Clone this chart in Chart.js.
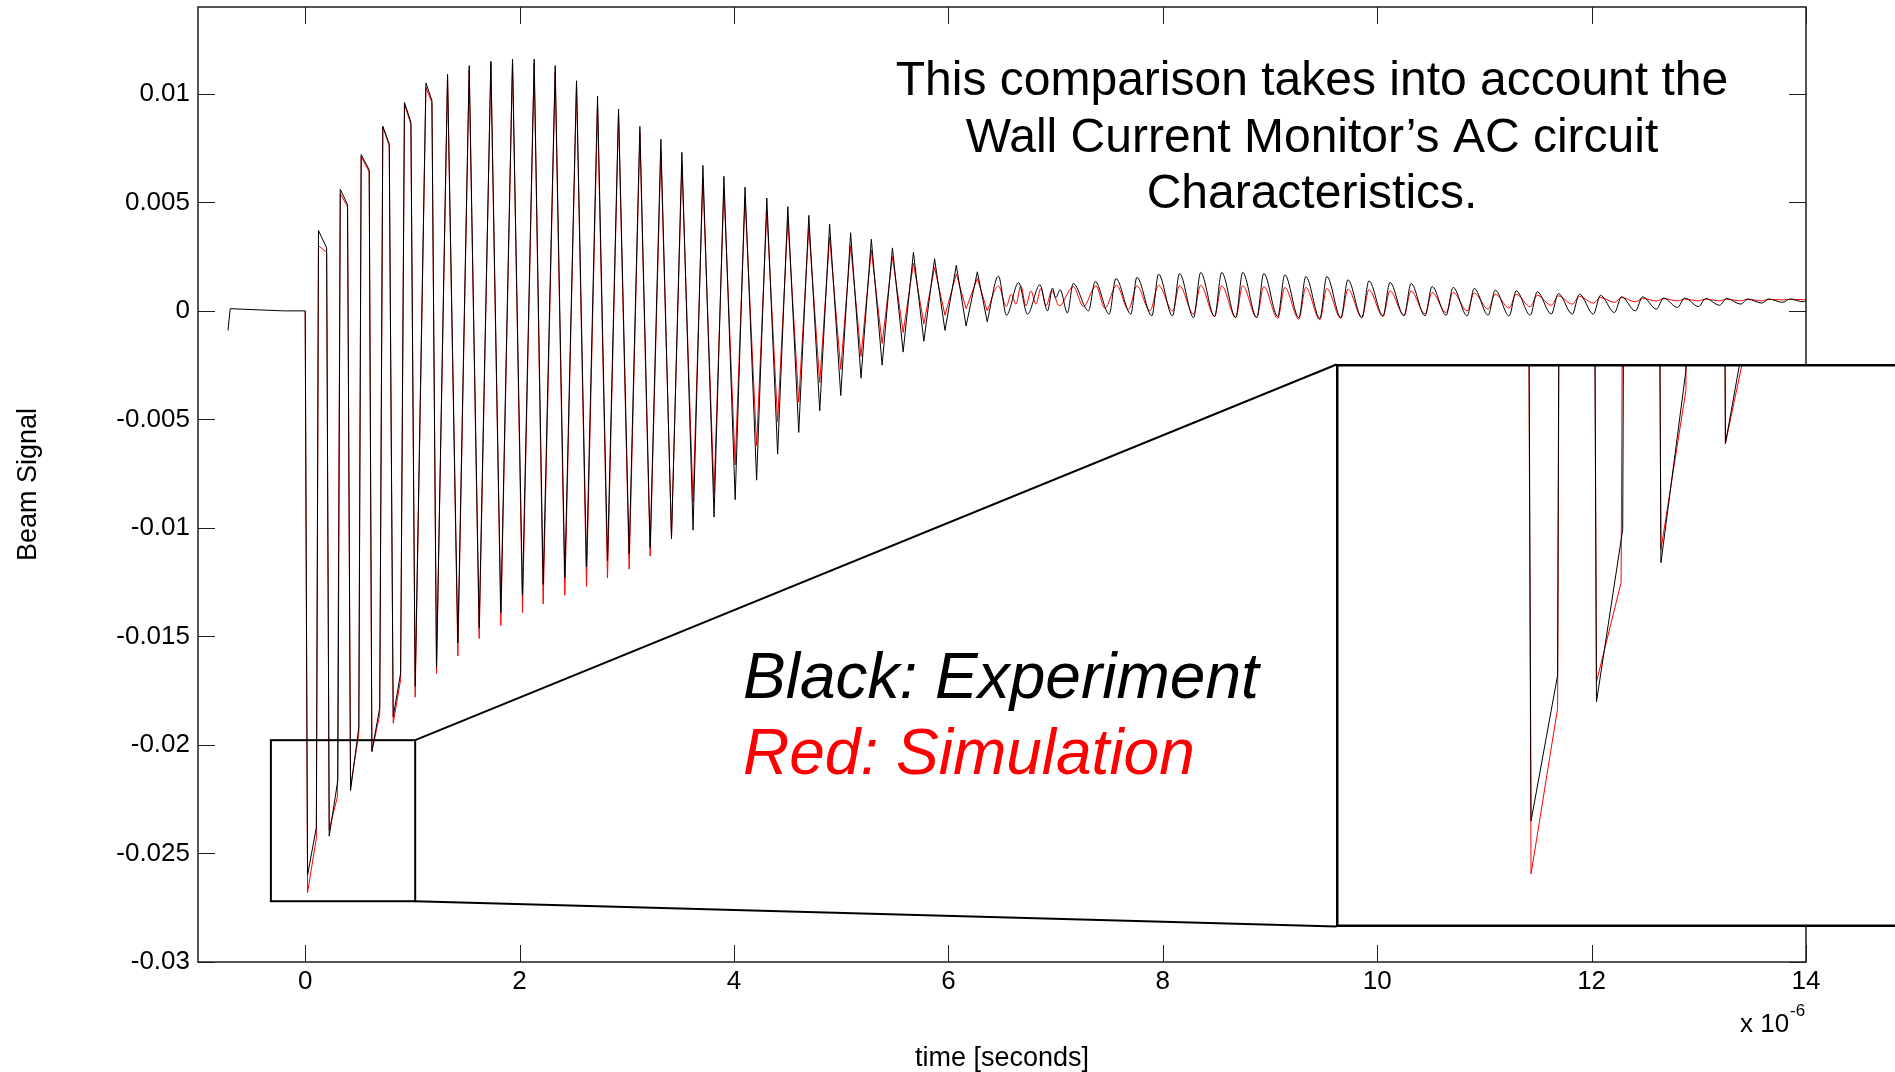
<!DOCTYPE html>
<html>
<head>
<meta charset="utf-8">
<script src="https://cdn.jsdelivr.net/npm/chart.js@4.4.0/dist/chart.umd.min.js"></script>
<style>
  html, body { margin: 0; padding: 0; background: #fff; overflow: hidden; }
  #wrap { position: relative; width: 1895px; height: 1072px; overflow: hidden; }
  #main { position: absolute; left: 0; top: 0; }
  #zoom { position: absolute; left: 1336px; top: 364px; }
</style>
</head>
<body>
<div id="wrap">
  <canvas id="main" width="1895" height="1072"></canvas>
  <canvas id="zoom" width="600" height="563"></canvas>
</div>
<script>
// time in units of 1e-6 s, signal in beam-signal units
const xTicks = [0, 2, 4, 6, 8, 10, 12, 14];
const yTicks = [-0.03, -0.025, -0.02, -0.015, -0.01, -0.005, 0, 0.005, 0.01];
const yTickLabels = ["-0.03", "-0.025", "-0.02", "-0.015", "-0.01", "-0.005", "0", "0.005", "0.01"];

// Black: experiment (trace vertices)
const expT = [
  -0.72, -0.70, -0.45, -0.20, 0.00,
  0.022, 0.104, 0.124, 0.200,
  0.224, 0.305, 0.327, 0.395,
  0.423, 0.500, 0.522, 0.597,
  0.622, 0.695, 0.724, 0.784,
  0.821, 0.890, 0.926, 0.986,
  1.026, 1.126, 1.182,
  1.225, 1.328, 1.424, 1.530, 1.623, 1.732, 1.825, 1.934,
  2.027, 2.136, 2.220, 2.332, 2.422, 2.531, 2.624, 2.727, 2.820, 2.923,
  3.022, 3.122, 3.218, 3.318, 3.417, 3.514, 3.618, 3.710, 3.814, 3.906,
  4.011, 4.103, 4.211, 4.306, 4.407, 4.502, 4.604, 4.698, 4.800, 4.892,
  4.996, 5.088, 5.185, 5.281, 5.382, 5.478, 5.578, 5.674, 5.771, 5.871,
  5.968, 6.074, 6.165, 6.270, 6.362, 6.467, 6.542, 6.654, 6.738, 6.853,
  6.925, 6.971, 7.000, 7.043, 7.110, 7.164, 7.307, 7.369, 7.500, 7.562,
  7.702, 7.758, 7.898, 7.960,
  8.091, 8.156, 8.287, 8.353, 8.483, 8.549, 8.680, 8.745, 8.876, 8.942,
  9.072, 9.138, 9.269, 9.334, 9.465, 9.530, 9.661, 9.727, 9.857, 9.923,
  10.054, 10.119, 10.250, 10.316, 10.446, 10.512, 10.643, 10.708, 10.839, 10.905,
  11.035, 11.101, 11.231, 11.297, 11.428, 11.493, 11.624, 11.690, 11.820, 11.886,
  12.017, 12.082, 12.213, 12.279, 12.409, 12.475, 12.605, 12.671, 12.802, 12.868,
  12.998, 13.064, 13.194, 13.260, 13.391, 13.456, 13.587, 13.653, 13.783, 13.849,
  13.980, 14.000
];
const expV = [
  -0.0009, 0.0001, 0.00005, 0.0, 0.0,
  -0.0260, -0.0238, 0.0037, 0.0029,
  -0.0242, -0.0216, 0.0056, 0.0049,
  -0.0221, -0.0192, 0.0072, 0.0065,
  -0.0203, -0.0183, 0.0085, 0.0077,
  -0.0187, -0.0167, 0.0096, 0.0087,
  -0.0173, 0.0105, 0.0097,
  -0.0164, 0.0109, -0.0153, 0.0113, -0.0146, 0.0115, -0.0139, 0.0116,
  -0.0131, 0.0116, -0.0126, 0.0113, -0.0123, 0.0106, -0.0118, 0.0099, -0.0115, 0.0093,
  -0.0112, 0.0085, -0.0109, 0.0079, -0.0105, 0.0073, -0.0101, 0.0067, -0.0095, 0.0062,
  -0.0087, 0.0057, -0.0078, 0.0052, -0.0066, 0.0048, -0.0056, 0.0044, -0.0046, 0.0040,
  -0.0039, 0.0036, -0.0031, 0.0033, -0.0025, 0.0029, -0.0019, 0.0027, -0.0014, 0.0024,
  -0.0009, 0.0021, -0.0007, 0.0018, -0.0005, 0.0016, -0.0002, 0.0013, -0.00015, 0.0012,
  0.0, 0.00105, 0.0006, 0.00097, -0.0001, 0.00126, 0.0, 0.00135, -0.00015, 0.00149,
  -0.00015, 0.00154, -0.00023, 0.00169,
  -0.00023, 0.00172, -0.00031, 0.00177, -0.00026, 0.00177, -0.00031, 0.00177, -0.00031, 0.00172,
  -0.00026, 0.00166, -0.00031, 0.00158, -0.00035, 0.00158, -0.00031, 0.00143, -0.00031, 0.00138,
  -0.00023, 0.00131, -0.00023, 0.00126, -0.00023, 0.00112, -0.00020, 0.00108, -0.00023, 0.00103,
  -0.00020, 0.00095, -0.00023, 0.00092, -0.00020, 0.00088, -0.00015, 0.00080, -0.00015, 0.00077,
  -0.00015, 0.00072, -0.00008, 0.00065, 0.0, 0.00065, 0.00008, 0.00059, 0.00016, 0.00059,
  0.00020, 0.00057, 0.00026, 0.00057, 0.00031, 0.00054, 0.00036, 0.00054, 0.00039, 0.00054,
  0.00042, 0.00048
];

// Red: simulation
const simT = [
  0.000,
  0.022, 0.104, 0.124, 0.200,
  0.224, 0.300, 0.327, 0.395,
  0.423, 0.500, 0.522, 0.597,
  0.622, 0.695, 0.724, 0.784,
  0.821, 0.890, 0.926, 0.986,
  1.026, 1.126, 1.182,
  1.225, 1.328, 1.424, 1.530, 1.623, 1.732, 1.825, 1.934,
  2.027, 2.136, 2.220, 2.332, 2.422, 2.531, 2.624, 2.727, 2.820, 2.923,
  3.022, 3.122, 3.218, 3.318, 3.417, 3.514, 3.618, 3.710, 3.814, 3.906,
  4.011, 4.103, 4.211, 4.306, 4.407, 4.502, 4.604, 4.698, 4.800, 4.892,
  4.996, 5.088, 5.185, 5.281, 5.382, 5.478, 5.578, 5.674, 5.771, 5.871,
  5.968, 6.074, 6.165, 6.270, 6.362, 6.467,
  6.540, 6.586, 6.630, 6.676, 6.723, 6.770, 6.816, 6.863, 6.910, 6.965,
  7.034, 7.164, 7.260, 7.376, 7.460, 7.568, 7.680, 7.758, 7.880, 7.960,
  8.091, 8.156, 8.287, 8.353, 8.483, 8.549, 8.680, 8.745, 8.876, 8.942,
  9.072, 9.138, 9.269, 9.334, 9.465, 9.530, 9.661, 9.727, 9.857, 9.923,
  10.054, 10.119, 10.250, 10.316, 10.446, 10.512, 10.643, 10.708, 10.839, 10.905,
  11.035, 11.101, 11.231, 11.297, 11.428, 11.493, 11.624, 11.690, 11.820, 11.886,
  12.017, 12.082, 12.213, 12.279, 12.409, 12.475, 12.605, 12.671, 12.802, 12.868,
  12.998, 13.064, 13.194, 13.260, 13.391, 13.456, 13.587, 13.653, 13.783, 13.849,
  13.980, 14.000
];
const simV = [
  0.0,
  -0.0268, -0.0243, 0.0030, 0.0027,
  -0.0239, -0.0224, 0.0054, 0.0048,
  -0.0219, -0.0195, 0.0071, 0.0064,
  -0.0203, -0.0186, 0.0085, 0.0076,
  -0.0190, -0.0170, 0.0095, 0.0086,
  -0.0178, 0.0103, 0.0096,
  -0.0167, 0.0108, -0.0159, 0.0111, -0.0151, 0.0114, -0.0145, 0.0115,
  -0.0139, 0.0114, -0.0135, 0.0110, -0.0131, 0.0105, -0.0127, 0.0095, -0.0123, 0.0091,
  -0.0119, 0.0082, -0.0113, 0.0074, -0.0104, 0.0068, -0.0088, 0.0061, -0.0084, 0.0056,
  -0.0071, 0.0052, -0.0062, 0.0046, -0.0051, 0.0042, -0.0042, 0.0038, -0.0033, 0.0034,
  -0.0027, 0.0030, -0.0021, 0.0028, -0.0015, 0.0025, -0.0010, 0.0022, -0.0006, 0.0020,
  -0.0002, 0.0017, 0.0001, 0.0015, 0.0000, 0.00115,
  0.0002, 0.00077, 0.00031, 0.00115, 0.00023, 0.00092, 0.00031, 0.00103, 0.00023, 0.00092,
  0.00023, 0.00112, 0.0002, 0.00115, 0.00012, 0.00118, 0.00006, 0.00115, 0.0, 0.00118,
  0.0, 0.00115, -0.00015, 0.00118, -0.00026, 0.00115, -0.00031, 0.00115, -0.00031, 0.00112,
  -0.00035, 0.00108, -0.00038, 0.00108, -0.00041, 0.00103, -0.00035, 0.00100, -0.00031, 0.00097,
  -0.00026, 0.00092, -0.00020, 0.00092, -0.00015, 0.00085, -0.00008, 0.00085, 0.0, 0.00082,
  0.00008, 0.00077, 0.00013, 0.00077, 0.00019, 0.00072, 0.00026, 0.00069, 0.00031, 0.00066,
  0.00036, 0.00062, 0.00039, 0.00062, 0.00042, 0.00057, 0.00045, 0.00057, 0.00046, 0.00054,
  0.00046, 0.00054, 0.00046, 0.00054, 0.00046, 0.00054, 0.00046, 0.00054, 0.00050, 0.00054,
  0.00051, 0.00052
];

// region magnified in the inset, and the inset's own axis ranges
const zoomBox = { t0: -0.32, t1: 1.026, v0: -0.0272, v1: -0.01978 };
const panelX = [-0.58, 1.272];
const panelY = [-0.0276, -0.0191];

const noteLines = ["This comparison takes into account the", "Wall Current Monitor\u2019s AC circuit", "Characteristics."];

const FONT = "'Liberation Sans', Arial, Helvetica, sans-serif";
const SPLIT = 6.362; // straight segments for the sharp pulses, smooth after

function toPoints(ts, vs) {
  return ts.map((t, i) => ({ x: t, y: vs[i] }));
}

function makeDatasets() {
  const exp = toPoints(expT, expV);
  const sim = toPoints(simT, simV);
  const mk = (pts, color, smooth) => ({
    data: pts,
    borderColor: color,
    borderWidth: 1,
    pointRadius: 0,
    fill: false,
    tension: 0,
    cubicInterpolationMode: smooth ? "monotone" : "default",
  });
  return [
    mk(exp.filter((p) => p.x <= SPLIT), "#000000", false),
    mk(exp.filter((p) => p.x >= SPLIT), "#000000", true),
    mk(sim.filter((p) => p.x <= SPLIT), "#ff0000", false),
    mk(sim.filter((p) => p.x >= SPLIT), "#ff0000", true),
  ];
}

const panelCanvas = document.getElementById("zoom");
const panel = {
  left: panelCanvas.offsetLeft + 0.5,
  top: panelCanvas.offsetTop + 0.5,
  bottom: panelCanvas.offsetTop + panelCanvas.height - 0.5,
};

const frame = {
  id: "frame",
  afterDraw(chart) {
    const { ctx, chartArea: a, scales: { x, y } } = chart;
    ctx.save();

    // axes box with inward ticks on all four sides
    ctx.strokeStyle = "#1e1e1e";
    ctx.lineWidth = 1.5;
    ctx.strokeRect(a.left, a.top, a.right - a.left, a.bottom - a.top);
    ctx.lineWidth = 1;
    ctx.beginPath();
    const L = 17;
    xTicks.forEach((v) => {
      const px = Math.round(x.getPixelForValue(v)) + 0.5;
      ctx.moveTo(px, a.bottom); ctx.lineTo(px, a.bottom - L);
      ctx.moveTo(px, a.top); ctx.lineTo(px, a.top + L);
    });
    yTicks.forEach((v) => {
      const py = Math.round(y.getPixelForValue(v)) + 0.5;
      ctx.moveTo(a.left, py); ctx.lineTo(a.left + L, py);
      ctx.moveTo(a.right, py); ctx.lineTo(a.right - L, py);
    });
    ctx.stroke();

    // magnified region and its connectors to the inset
    const bx0 = x.getPixelForValue(zoomBox.t0), bx1 = x.getPixelForValue(zoomBox.t1);
    const byT = y.getPixelForValue(zoomBox.v1), byB = y.getPixelForValue(zoomBox.v0);
    ctx.strokeStyle = "#000";
    ctx.lineWidth = 2;
    ctx.strokeRect(bx0, byT, bx1 - bx0, byB - byT);
    ctx.beginPath();
    ctx.moveTo(bx1, byT); ctx.lineTo(panel.left, panel.top);
    ctx.moveTo(bx1, byB); ctx.lineTo(panel.left, panel.bottom);
    ctx.stroke();

    // annotation text
    ctx.fillStyle = "#000";
    ctx.textAlign = "center";
    ctx.textBaseline = "middle";
    ctx.font = "48px " + FONT;
    noteLines.forEach((s, i) => ctx.fillText(s, 1312, 82 + i * 56.5));

    ctx.textAlign = "left";
    ctx.font = "italic 64px " + FONT;
    ctx.fillText("Black: Experiment", 743, 680);
    ctx.fillStyle = "#ff0000";
    ctx.fillText("Red: Simulation", 743, 756);

    // exponent note
    ctx.fillStyle = "#000";
    ctx.textBaseline = "alphabetic";
    ctx.font = "26px " + FONT;
    ctx.fillText("x 10", 1740, 1032);
    ctx.font = "17px " + FONT;
    ctx.fillText("-6", 1790, 1016);
    ctx.restore();
  },
};

new Chart(document.getElementById("main"), {
  type: "line",
  data: { datasets: makeDatasets() },
  options: {
    responsive: false,
    animation: false,
    devicePixelRatio: 1,
    layout: { padding: { top: 7, right: 89, left: 0, bottom: 0 } },
    plugins: { legend: { display: false }, tooltip: { enabled: false } },
    scales: {
      x: {
        type: "linear",
        min: -1,
        max: 14,
        grid: { display: false, drawTicks: false },
        border: { display: false },
        afterBuildTicks: (s) => { s.ticks = xTicks.map((v) => ({ value: v })); },
        afterFit: (s) => { s.height = 110; s.paddingLeft = 0; s.paddingRight = 0; },
        ticks: {
          padding: 4,
          color: "#000",
          maxRotation: 0,
          autoSkip: false,
          font: { family: FONT, size: 26 },
          callback: (v) => String(v),
        },
        title: {
          display: true,
          text: "time [seconds]",
          color: "#000",
          font: { family: FONT, size: 27, lineHeight: 1.0 },
          padding: { top: 0, bottom: 0 },
        },
      },
      y: {
        type: "linear",
        min: -0.03,
        max: 0.014,
        grid: { display: false, drawTicks: false },
        border: { display: false },
        afterBuildTicks: (s) => { s.ticks = yTicks.map((v) => ({ value: v })); },
        afterFit: (s) => { s.width = 198; s.paddingTop = 0; s.paddingBottom = 0; },
        ticks: {
          padding: 8,
          color: "#000",
          autoSkip: false,
          font: { family: FONT, size: 26 },
          callback: (v) => yTickLabels[yTicks.indexOf(v)],
        },
        title: {
          display: true,
          text: "Beam Signal",
          color: "#000",
          font: { family: FONT, size: 27 },
          padding: { top: 12, bottom: 0 },
        },
      },
    },
  },
  plugins: [frame],
});

const panelFrame = {
  id: "panelFrame",
  beforeDraw(chart) {
    const { ctx, width, height } = chart;
    ctx.save();
    ctx.fillStyle = "#fff";
    ctx.fillRect(0, 0, width, height);
    ctx.restore();
  },
  afterDraw(chart) {
    const { ctx, width, height } = chart;
    ctx.save();
    ctx.strokeStyle = "#000";
    ctx.lineWidth = 2.5;
    ctx.beginPath();
    ctx.moveTo(width, 1.25); ctx.lineTo(1.25, 1.25);
    ctx.lineTo(1.25, height - 1.25); ctx.lineTo(width, height - 1.25);
    ctx.stroke();
    ctx.restore();
  },
};

new Chart(panelCanvas, {
  type: "line",
  data: { datasets: makeDatasets() },
  options: {
    responsive: false,
    animation: false,
    devicePixelRatio: 1,
    layout: { padding: 0 },
    plugins: { legend: { display: false }, tooltip: { enabled: false } },
    scales: {
      x: { type: "linear", display: false, min: panelX[0], max: panelX[1] },
      y: { type: "linear", display: false, min: panelY[0], max: panelY[1] },
    },
  },
  plugins: [panelFrame],
});
</script>
</body>
</html>
